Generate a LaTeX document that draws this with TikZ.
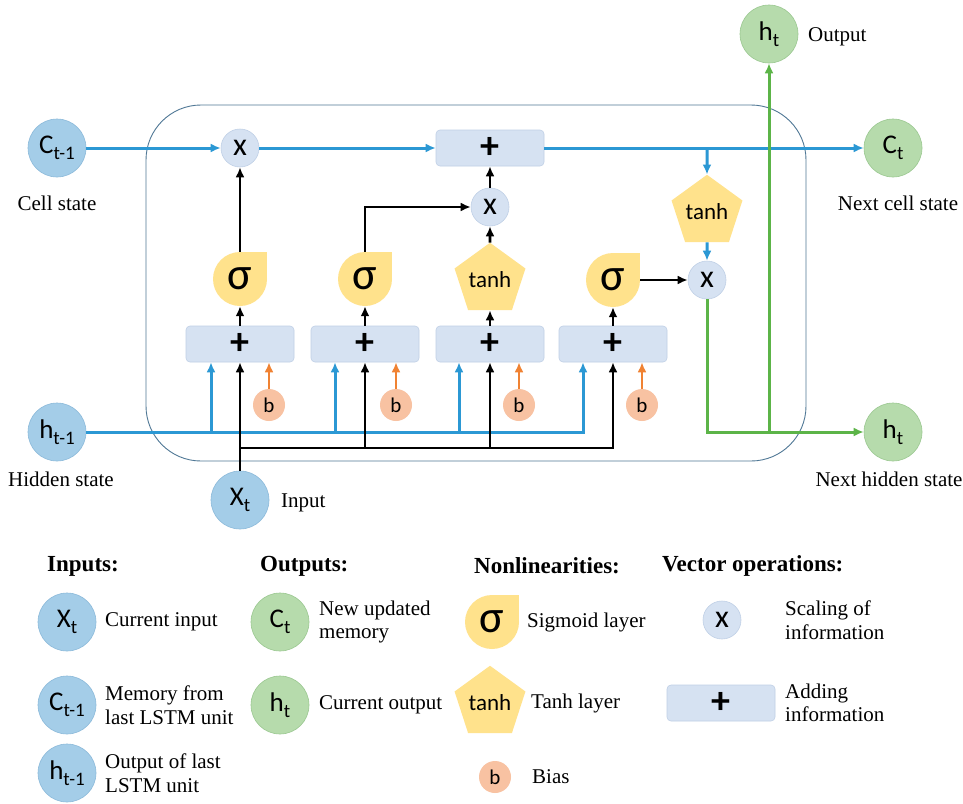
\documentclass[tikz,border=0pt]{standalone}
\usepackage{fontspec}
\setmainfont{Liberation Serif}
\newfontfamily\carl{Carlito}
\usetikzlibrary{arrows.meta,shapes.geometric,calc}
\definecolor{cblue}{RGB}{164,205,232}
\definecolor{cblueb}{RGB}{140,186,218}
\definecolor{cgreen}{RGB}{182,219,172}
\definecolor{cgreenb}{RGB}{155,200,145}
\definecolor{cyel}{RGB}{255,226,140}
\definecolor{clav}{RGB}{214,226,242}
\definecolor{clavb}{RGB}{192,208,230}
\definecolor{cpeach}{RGB}{248,194,162}
\definecolor{lblue}{RGB}{43,152,212}
\definecolor{lgreen}{RGB}{92,180,72}
\definecolor{lorange}{RGB}{240,130,50}
\definecolor{boxc}{RGB}{80,120,150}
\newcommand\sub[2]{#1\raisebox{-6pt}{\fontsize{19}{19}\selectfont #2}}
\newcommand\sgate[3]{\fill[cyel] (#2,#3) rectangle ++(27,-27); \node[sig] (#1) at (#2,#3) {σ};}
\begin{document}
\begin{tikzpicture}[x=1pt,y=-1pt,
  >={Latex[length=10pt,width=9pt]},
  bigc/.style={circle, minimum size=58pt, inner sep=0pt, line width=0.6pt, font=\carl\fontsize{27}{27}\selectfont},
  inc/.style={bigc, fill=cblue, draw=cblueb},
  outc/.style={bigc, fill=cgreen, draw=cgreenb},
  mul/.style={circle, minimum size=38pt, inner sep=0pt, fill=clav, draw=clavb, line width=0.6pt, font=\carl\fontsize{32}{32}\selectfont},
  addr/.style={rectangle, rounded corners=4pt, minimum width=108pt, minimum height=36pt, fill=clav, draw=clavb, line width=0.6pt, font=\carl\bfseries\fontsize{38}{38}\selectfont},
  sig/.style={circle, minimum size=54pt, inner sep=0pt, fill=cyel, font=\carl\fontsize{46}{46}\selectfont},
  tnh/.style={regular polygon, regular polygon sides=5, minimum size=60pt, inner sep=0pt, fill=cyel, font=\carl\fontsize{23}{23}\selectfont},
  bias/.style={circle, minimum size=32pt, inner sep=0pt, fill=cpeach, font=\carl\fontsize{21}{21}\selectfont},
  lab/.style={font=\fontsize{21}{23.5}\selectfont, inner sep=0pt, align=left},
  head/.style={font=\bfseries\fontsize{23}{23}\selectfont, inner sep=0pt, anchor=west},
  bl/.style={draw=lblue, line width=3pt},
  bk/.style={draw=black, line width=2.8pt},
  gr/.style={draw=lgreen, line width=3pt},
  orr/.style={draw=lorange, line width=2.8pt}
]
\fill[white] (0,0) rectangle (963,803);
\useasboundingbox (0,0) rectangle (963,803);
\draw[boxc, line width=0.9pt, rounded corners=55pt] (146,105) rectangle (806,461);

% main nodes
\node[inc] (c0) at (57,148) {\sub{C}{t-1}};
\node[inc] (h0) at (57,432) {\sub{h}{t-1}};
\node[inc] (xt) at (240,500) {\sub{X}{t}};
\node[outc] (ct) at (893,148) {\sub{C}{t}};
\node[outc] (ht) at (893,432) {\sub{h}{t}};
\node[outc] (ho) at (769,34) {\sub{h}{t}};
\node[mul] (m1) at (240,148) {x};
\node[addr] (p0) at (490,148) {+};
\node[mul] (m2) at (490,207) {x};
\node[tnh] (tr) at (707,212) {tanh};
\node[mul] (m3) at (707,280) {x};
\sgate{s1}{240}{279}
\sgate{s2}{365}{279}
\node[tnh] (t3) at (490,280) {tanh};
\sgate{s4}{613}{280}
\node[addr] (a1) at (240,344) {+};
\node[addr] (a2) at (365,344) {+};
\node[addr] (a3) at (490,344) {+};
\node[addr] (a4) at (613,344) {+};
\node[bias] (b1) at (269,405) {b};
\node[bias] (b2) at (396,405) {b};
\node[bias] (b3) at (519,405) {b};
\node[bias] (b4) at (642,405) {b};

% labels
\node[lab] (lcs) at (57,203) {Cell state};
\node[lab] (lhs) at (61,479) {Hidden state};
\node[lab, anchor=west] (lin) at (281,503) {Input};
\node[lab, anchor=west] (lout) at (808,37) {Output};
\node[lab] (lncs) at (898,203) {Next cell state};
\node[lab] (lnhs) at (889,479) {Next hidden state};

% coordinates
\coordinate (j1) at ($(a1.south)+(-29,0)$);
\coordinate (j2) at ($(a2.south)+(-30,0)$);
\coordinate (j3) at ($(a3.south)+(-31,0)$);
\coordinate (j4) at ($(a4.south)+(-30,0)$);
\coordinate (k) at (240,448);

% blue cell-state line
\draw[bl,->] (c0) -- (m1);
\draw[bl,->] (m1) -- (p0);
\draw[bl,->] (p0) -- (ct);
\draw[bl,->] (tr |- p0) -- (tr);
\draw[bl,->] (tr) -- (m3);
% blue hidden line
\draw[bl,->] (h0.east) -| (j4);
\draw[bl,->] (j1 |- h0) -- (j1);
\draw[bl,->] (j2 |- h0) -- (j2);
\draw[bl,->] (j3 |- h0) -- (j3);
% bias
\draw[orr,->] (b1) -- (b1 |- a1.south);
\draw[orr,->] (b2) -- (b2 |- a2.south);
\draw[orr,->] (b3) -- (b3 |- a3.south);
\draw[orr,->] (b4) -- (b4 |- a4.south);
% black input lines
\draw[bk,->] (xt) -- (a1);
\draw[bk,->] (k) -| (a4.south);
\draw[bk,->] (a2.south |- k) -- (a2.south);
\draw[bk,->] (a3.south |- k) -- (a3.south);
\draw[bk,->] (a1) -- (s1);
\draw[bk,->] (a2) -- (s2);
\draw[bk,->] (a3) -- (t3);
\draw[bk,->] (a4) -- (s4);
\draw[bk,->] (s1) -- (m1);
\draw[bk,->] (s2.north) |- (m2.west);
\draw[bk,->] (t3) -- (m2);
\draw[bk,->] (m2) -- (p0);
\draw[bk,->] (s4) -- (m3);
% green output
\draw[gr,->] (m3.south) |- (ht.west);
\draw[gr,->] (ho |- ht) -- (ho);

% legend
\node[head] (hin) at (47,566) {Inputs:};
\node[head] (hout) at (260,566) {Outputs:};
\node[head] (hnl) at (474,566) {Nonlinearities:};
\node[head] (hvo) at (662,566) {Vector operations:};

\node[inc] (lx) at (67,622) {\sub{X}{t}};
\node[lab, anchor=west] (tlx) at (105,622) {Current input};
\node[inc] (lc) at (67,705) {\sub{C}{t-1}};
\node[lab, anchor=west] (tlc) at (105,705) {Memory from\\last LSTM unit};
\node[inc] (lh) at (67,773) {\sub{h}{t-1}};
\node[lab, anchor=west] (tlh) at (105,773) {Output of last\\LSTM unit};

\node[outc] (lct) at (280,622) {\sub{C}{t}};
\node[lab, anchor=west] (tlct) at (319,622) {New updated\\memory};
\node[outc] (lht) at (280,705) {\sub{h}{t}};
\node[lab, anchor=west] (tlht) at (319,705) {Current output};

\sgate{ls}{492}{622}
\node[lab, anchor=west] (tls) at (527,622) {Sigmoid layer};
\node[tnh] (lt) at (490,703) {tanh};
\node[lab, anchor=west] (tlt) at (531,703) {Tanh layer};
\node[bias] (lb) at (495,777) {b};
\node[lab, anchor=west] (tlb) at (532,777) {Bias};

\node[mul] (lm) at (722,620) {x};
\node[lab, anchor=west] (tlm) at (785,620) {Scaling of\\information};
\node[addr] (la) at (721,703) {+};
\node[lab, anchor=west] (tla) at (785,703) {Adding\\information};
\end{tikzpicture}
\end{document}
